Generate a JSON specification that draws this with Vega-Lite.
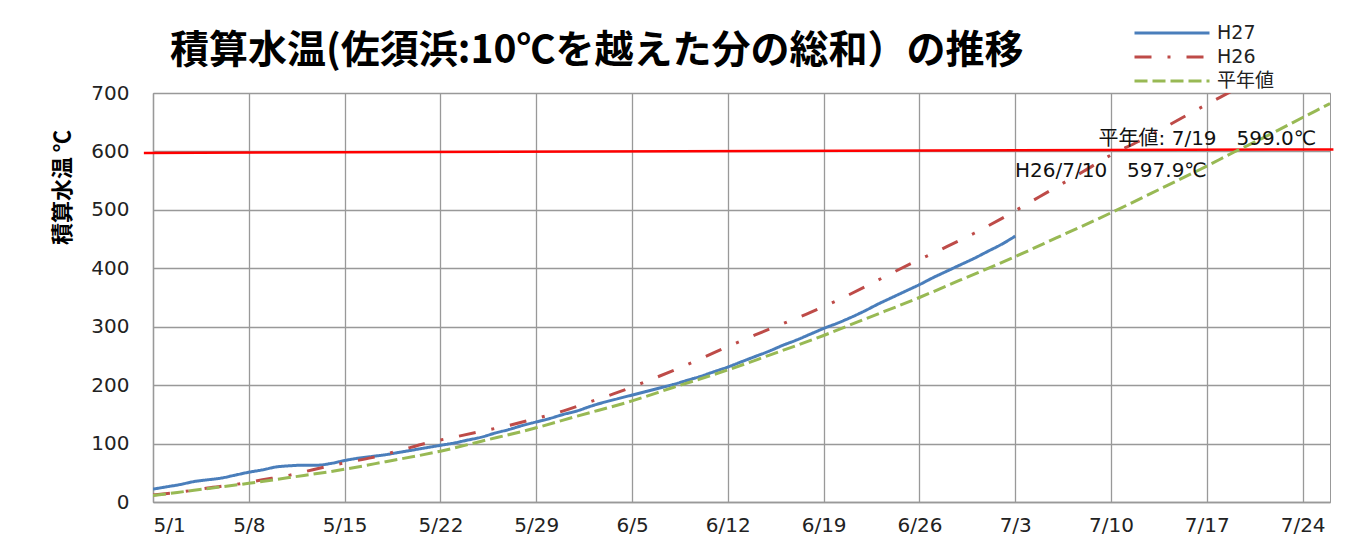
{
  "$schema": "https://vega.github.io/schema/vega-lite/v6.json",
  "width": 1177,
  "height": 409,
  "autosize": "none",
  "padding": {"left": 153, "top": 93, "right": 34, "bottom": 46},
  "background": "white",
  "title": {
    "text": "積算水温(佐須浜:10℃を越えた分の総和）の推移",
    "anchor": "start",
    "frame": "group",
    "dx": 17,
    "offset": -50,
    "font": "Noto Sans CJK JP",
    "fontSize": 39,
    "fontWeight": "bold",
    "color": "#000000"
  },
  "datasets": {
    "lines": [
      {"date": "2015/05/01", "value": 22, "series": "H27"},
      {"date": "2015/05/02", "value": 26, "series": "H27"},
      {"date": "2015/05/03", "value": 30, "series": "H27"},
      {"date": "2015/05/04", "value": 35, "series": "H27"},
      {"date": "2015/05/05", "value": 38, "series": "H27"},
      {"date": "2015/05/06", "value": 41, "series": "H27"},
      {"date": "2015/05/07", "value": 46, "series": "H27"},
      {"date": "2015/05/08", "value": 51, "series": "H27"},
      {"date": "2015/05/09", "value": 55, "series": "H27"},
      {"date": "2015/05/10", "value": 60, "series": "H27"},
      {"date": "2015/05/11", "value": 62, "series": "H27"},
      {"date": "2015/05/12", "value": 63, "series": "H27"},
      {"date": "2015/05/13", "value": 63, "series": "H27"},
      {"date": "2015/05/14", "value": 66, "series": "H27"},
      {"date": "2015/05/15", "value": 71, "series": "H27"},
      {"date": "2015/05/16", "value": 75, "series": "H27"},
      {"date": "2015/05/17", "value": 78, "series": "H27"},
      {"date": "2015/05/18", "value": 81, "series": "H27"},
      {"date": "2015/05/19", "value": 85, "series": "H27"},
      {"date": "2015/05/20", "value": 89, "series": "H27"},
      {"date": "2015/05/21", "value": 93, "series": "H27"},
      {"date": "2015/05/22", "value": 97, "series": "H27"},
      {"date": "2015/05/23", "value": 101, "series": "H27"},
      {"date": "2015/05/24", "value": 106, "series": "H27"},
      {"date": "2015/05/25", "value": 111, "series": "H27"},
      {"date": "2015/05/26", "value": 118, "series": "H27"},
      {"date": "2015/05/27", "value": 124, "series": "H27"},
      {"date": "2015/05/28", "value": 131, "series": "H27"},
      {"date": "2015/05/29", "value": 137, "series": "H27"},
      {"date": "2015/05/30", "value": 143, "series": "H27"},
      {"date": "2015/05/31", "value": 150, "series": "H27"},
      {"date": "2015/06/01", "value": 156, "series": "H27"},
      {"date": "2015/06/02", "value": 164, "series": "H27"},
      {"date": "2015/06/03", "value": 171, "series": "H27"},
      {"date": "2015/06/04", "value": 177, "series": "H27"},
      {"date": "2015/06/05", "value": 183, "series": "H27"},
      {"date": "2015/06/06", "value": 189, "series": "H27"},
      {"date": "2015/06/07", "value": 195, "series": "H27"},
      {"date": "2015/06/08", "value": 201, "series": "H27"},
      {"date": "2015/06/09", "value": 208, "series": "H27"},
      {"date": "2015/06/10", "value": 215, "series": "H27"},
      {"date": "2015/06/11", "value": 223, "series": "H27"},
      {"date": "2015/06/12", "value": 231, "series": "H27"},
      {"date": "2015/06/13", "value": 240, "series": "H27"},
      {"date": "2015/06/14", "value": 249, "series": "H27"},
      {"date": "2015/06/15", "value": 258, "series": "H27"},
      {"date": "2015/06/16", "value": 268, "series": "H27"},
      {"date": "2015/06/17", "value": 277, "series": "H27"},
      {"date": "2015/06/18", "value": 287, "series": "H27"},
      {"date": "2015/06/19", "value": 297, "series": "H27"},
      {"date": "2015/06/20", "value": 306, "series": "H27"},
      {"date": "2015/06/21", "value": 316, "series": "H27"},
      {"date": "2015/06/22", "value": 327, "series": "H27"},
      {"date": "2015/06/23", "value": 339, "series": "H27"},
      {"date": "2015/06/24", "value": 350, "series": "H27"},
      {"date": "2015/06/25", "value": 361, "series": "H27"},
      {"date": "2015/06/26", "value": 372, "series": "H27"},
      {"date": "2015/06/27", "value": 384, "series": "H27"},
      {"date": "2015/06/28", "value": 395, "series": "H27"},
      {"date": "2015/06/29", "value": 406, "series": "H27"},
      {"date": "2015/06/30", "value": 417, "series": "H27"},
      {"date": "2015/07/01", "value": 429, "series": "H27"},
      {"date": "2015/07/02", "value": 441, "series": "H27"},
      {"date": "2015/07/03", "value": 455, "series": "H27"},

      {"date": "2015/05/01", "value": 12, "series": "H26"},
      {"date": "2015/05/03", "value": 17, "series": "H26"},
      {"date": "2015/05/05", "value": 24, "series": "H26"},
      {"date": "2015/05/07", "value": 30, "series": "H26"},
      {"date": "2015/05/09", "value": 38, "series": "H26"},
      {"date": "2015/05/11", "value": 46, "series": "H26"},
      {"date": "2015/05/13", "value": 57, "series": "H26"},
      {"date": "2015/05/15", "value": 67, "series": "H26"},
      {"date": "2015/05/17", "value": 76, "series": "H26"},
      {"date": "2015/05/19", "value": 88, "series": "H26"},
      {"date": "2015/05/21", "value": 101, "series": "H26"},
      {"date": "2015/05/23", "value": 111, "series": "H26"},
      {"date": "2015/05/25", "value": 121, "series": "H26"},
      {"date": "2015/05/27", "value": 131, "series": "H26"},
      {"date": "2015/05/29", "value": 143, "series": "H26"},
      {"date": "2015/05/31", "value": 156, "series": "H26"},
      {"date": "2015/06/02", "value": 172, "series": "H26"},
      {"date": "2015/06/04", "value": 188, "series": "H26"},
      {"date": "2015/06/06", "value": 206, "series": "H26"},
      {"date": "2015/06/08", "value": 225, "series": "H26"},
      {"date": "2015/06/10", "value": 245, "series": "H26"},
      {"date": "2015/06/12", "value": 266, "series": "H26"},
      {"date": "2015/06/14", "value": 286, "series": "H26"},
      {"date": "2015/06/16", "value": 305, "series": "H26"},
      {"date": "2015/06/18", "value": 324, "series": "H26"},
      {"date": "2015/06/20", "value": 345, "series": "H26"},
      {"date": "2015/06/22", "value": 368, "series": "H26"},
      {"date": "2015/06/24", "value": 392, "series": "H26"},
      {"date": "2015/06/26", "value": 415, "series": "H26"},
      {"date": "2015/06/28", "value": 437, "series": "H26"},
      {"date": "2015/06/30", "value": 460, "series": "H26"},
      {"date": "2015/07/02", "value": 485, "series": "H26"},
      {"date": "2015/07/04", "value": 512, "series": "H26"},
      {"date": "2015/07/06", "value": 539, "series": "H26"},
      {"date": "2015/07/08", "value": 566, "series": "H26"},
      {"date": "2015/07/10", "value": 594, "series": "H26"},
      {"date": "2015/07/12", "value": 617, "series": "H26"},
      {"date": "2015/07/14", "value": 642, "series": "H26"},
      {"date": "2015/07/16", "value": 668, "series": "H26"},
      {"date": "2015/07/18", "value": 693, "series": "H26"},
      {"date": "2015/07/20", "value": 718, "series": "H26"},

      {"date": "2015/05/01", "value": 11, "series": "平年値"},
      {"date": "2015/05/04", "value": 20, "series": "平年値"},
      {"date": "2015/05/08", "value": 32, "series": "平年値"},
      {"date": "2015/05/11", "value": 42, "series": "平年値"},
      {"date": "2015/05/15", "value": 56, "series": "平年値"},
      {"date": "2015/05/18", "value": 69, "series": "平年値"},
      {"date": "2015/05/22", "value": 87, "series": "平年値"},
      {"date": "2015/05/25", "value": 104, "series": "平年値"},
      {"date": "2015/05/29", "value": 127, "series": "平年値"},
      {"date": "2015/06/01", "value": 147, "series": "平年値"},
      {"date": "2015/06/05", "value": 173, "series": "平年値"},
      {"date": "2015/06/08", "value": 196, "series": "平年値"},
      {"date": "2015/06/12", "value": 226, "series": "平年値"},
      {"date": "2015/06/15", "value": 251, "series": "平年値"},
      {"date": "2015/06/19", "value": 285, "series": "平年値"},
      {"date": "2015/06/22", "value": 313, "series": "平年値"},
      {"date": "2015/06/26", "value": 350, "series": "平年値"},
      {"date": "2015/06/29", "value": 380, "series": "平年値"},
      {"date": "2015/07/03", "value": 420, "series": "平年値"},
      {"date": "2015/07/06", "value": 452, "series": "平年値"},
      {"date": "2015/07/10", "value": 495, "series": "平年値"},
      {"date": "2015/07/13", "value": 529, "series": "平年値"},
      {"date": "2015/07/17", "value": 575, "series": "平年値"},
      {"date": "2015/07/19", "value": 599, "series": "平年値"},
      {"date": "2015/07/21", "value": 622, "series": "平年値"},
      {"date": "2015/07/24", "value": 658, "series": "平年値"},
      {"date": "2015/07/26", "value": 682, "series": "平年値"}
    ],
    "ref": [
      {"start": "2015/04/30 08:00", "end": "2015/07/26 06:00", "v1": 597.5, "v2": 603.5}
    ],
    "notes": [
      {"date": "2015/07/25", "value": 621, "label": "平年値: 7/19　599.0℃"},
      {"date": "2015/07/17", "value": 567, "label": "H26/7/10　597.9℃"}
    ]
  },
  "layer": [
    {
      "data": {"name": "ref"},
      "mark": {"type": "rule", "color": "#FF0000", "strokeWidth": 2.5},
      "encoding": {
        "x": {"field": "start", "type": "temporal", "scale": {"domain": [{"year": 2015, "month": 5, "date": 1}, {"year": 2015, "month": 7, "date": 26}]}},
        "x2": {"field": "end"},
        "y": {"field": "v1", "type": "quantitative", "scale": {"domain": [0, 700], "nice": false}},
        "y2": {"field": "v2"}
      }
    },
    {
      "data": {"name": "lines"},
      "mark": {"type": "line", "strokeWidth": 3, "clip": true, "interpolate": "monotone"},
      "encoding": {
        "x": {
          "field": "date",
          "type": "temporal",
          "scale": {"domain": [{"year": 2015, "month": 5, "date": 1}, {"year": 2015, "month": 7, "date": 26}]},
          "axis": {
            "title": null,
            "format": "%-m/%-d",
            "values": [
              {"year": 2015, "month": 5, "date": 1},
              {"year": 2015, "month": 5, "date": 8},
              {"year": 2015, "month": 5, "date": 15},
              {"year": 2015, "month": 5, "date": 22},
              {"year": 2015, "month": 5, "date": 29},
              {"year": 2015, "month": 6, "date": 5},
              {"year": 2015, "month": 6, "date": 12},
              {"year": 2015, "month": 6, "date": 19},
              {"year": 2015, "month": 6, "date": 26},
              {"year": 2015, "month": 7, "date": 3},
              {"year": 2015, "month": 7, "date": 10},
              {"year": 2015, "month": 7, "date": 17},
              {"year": 2015, "month": 7, "date": 24}
            ],
            "labelPadding": 13,
            "labelFontSize": 20
          }
        },
        "y": {
          "field": "value",
          "type": "quantitative",
          "scale": {"domain": [0, 700], "nice": false},
          "axis": {
            "values": [0, 50, 100, 150, 200, 250, 300, 350, 400, 450, 500, 550, 600, 650, 700],
            "title": "積算水温 ℃",
            "titleFont": "Noto Sans CJK JP",
            "titleFontSize": 22,
            "titleFontWeight": "bold",
            "titleColor": "#000000",
            "titleAngle": -90,
            "titleX": -91,
            "titleY": 94,
            "titleAlign": "center",
            "titleBaseline": "middle",
            "labelPadding": 24,
            "labelFontSize": 20
          }
        },
        "color": {
          "field": "series",
          "type": "nominal",
          "scale": {"domain": ["H27", "H26", "平年値"], "range": ["#4A7EBB", "#BE4B48", "#98B954"]},
          "legend": {"title": null, "orient": "none", "legendX": 980, "legendY": -72, "direction": "vertical"}
        },
        "strokeDash": {
          "field": "series",
          "type": "nominal",
          "scale": {"domain": ["H27", "H26", "平年値"], "range": [[1, 0], [17, 16, 3, 16], [13, 5]]},
          "legend": {"title": null, "orient": "none", "legendX": 980, "legendY": -72, "direction": "vertical"}
        }
      }
    },
    {
      "data": {"name": "notes"},
      "mark": {"type": "text", "align": "right", "baseline": "middle", "font": "'DejaVu Sans', 'Noto Sans CJK JP'", "fontSize": 20, "color": "#111111"},
      "encoding": {
        "x": {"field": "date", "type": "temporal", "scale": {"domain": [{"year": 2015, "month": 5, "date": 1}, {"year": 2015, "month": 7, "date": 26}]}},
        "y": {"field": "value", "type": "quantitative", "scale": {"domain": [0, 700], "nice": false}},
        "text": {"field": "label"}
      }
    },
    {
      "mark": {"type": "rule", "color": "#333333", "strokeWidth": 1.5},
      "encoding": {
        "x": {"datum": {"year": 2015, "month": 7, "date": 26}, "type": "temporal"}
      }
    }
  ],
  "config": {
    "view": {"stroke": "#999999", "strokeWidth": 1},
    "font": "DejaVu Sans",
    "axis": {
      "labelFont": "DejaVu Sans",
      "labelColor": "#222222",
      "gridColor": "#999999",
      "gridWidth": 1.3,
      "gridOpacity": 1,
      "domainColor": "#999999",
      "domainWidth": 1.3,
      "ticks": false,
      "grid": true
    },
    "legend": {
      "symbolType": "stroke",
      "symbolSize": 5625,
      "symbolStrokeWidth": 3,
      "clipHeight": 24,
      "rowPadding": 0,
      "padding": 0,
      "labelFont": "'DejaVu Sans', 'Noto Sans CJK JP'",
      "labelFontSize": 19,
      "labelColor": "#222222",
      "labelOffset": 6
    }
  }
}
